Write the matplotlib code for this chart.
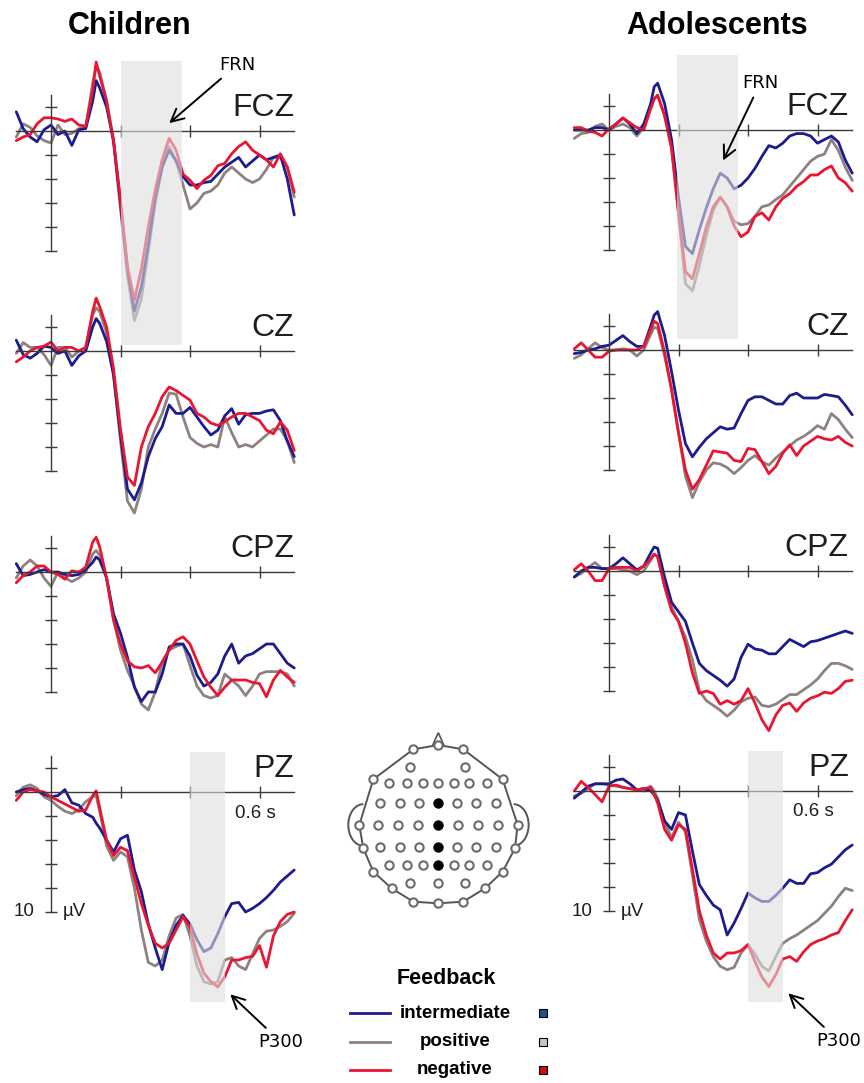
import matplotlib
matplotlib.use("Agg")
import matplotlib.pyplot as plt
from matplotlib.patches import Rectangle, Polygon, Arc
from matplotlib.lines import Line2D

plt.rcParams['font.family'] = ['Liberation Sans', 'DejaVu Sans']

W, H, DPI = 864, 1083, 100

# sample times in seconds
times = [-0.10, -0.08, -0.06, -0.04, -0.02, 0.00, 0.02, 0.04, 0.06, 0.08, 0.10, 0.12, 0.13,
         0.14, 0.16, 0.18, 0.20, 0.22, 0.24, 0.26, 0.28, 0.30, 0.32, 0.34, 0.36, 0.38, 0.40,
         0.42, 0.44, 0.46, 0.48, 0.50, 0.52, 0.54, 0.56, 0.58, 0.60, 0.62, 0.64, 0.66, 0.68, 0.70]

# ERP amplitudes in microvolts (positive plotted downwards)
# --- Children ---
ch_fcz_int = [-1.6, -0.2, 0.5, 0.9, -0.1, -0.5, 0.3, 0.0, 1.2, -0.1, -0.2, -2.5, -4.2,
              -3.6, -2.0, 0.8, 6.0, 11.5, 15.0, 13.0, 9.5, 5.5, 3.0, 1.6, 2.5, 3.8, 4.5,
              4.5, 4.3, 4.2, 3.6, 3.0, 2.6, 2.2, 3.0, 2.5, 2.0, 2.4, 2.2, 2.0, 4.0, 7.0]
ch_fcz_pos = [0.5, -0.6, -0.3, 0.4, 0.8, 1.0, -0.5, 0.3, 0.2, -0.2, -0.3, -4.0, -5.4,
              -4.9, -2.5, 1.0, 6.5, 12.0, 15.8, 14.0, 10.0, 6.0, 3.0, 1.3, 2.5, 4.5, 6.5,
              6.0, 5.2, 5.0, 4.5, 3.5, 3.0, 3.5, 4.0, 4.3, 4.0, 3.2, 2.2, 2.2, 3.0, 5.5]
ch_fcz_neg = [0.8, 0.5, 0.3, -0.6, -1.1, -1.1, -1.0, -0.8, -1.0, -0.5, -0.4, -3.4, -5.75,
              -4.6, -2.5, 0.8, 5.8, 11.3, 14.1, 11.5, 8.0, 4.9, 2.4, 0.6, 1.6, 3.6, 4.1,
              4.8, 4.1, 3.7, 2.9, 2.7, 1.9, 1.3, 0.9, 1.6, 2.0, 2.4, 3.0, 1.9, 3.0, 5.1]

ch_cz_int = [-0.9, 0.3, 0.6, 0.2, -0.4, -0.3, 0.2, 0.0, 1.2, 0.4, 0.0, -2.0, -2.7,
             -2.3, -0.8, 2.0, 7.0, 11.5, 12.4, 11.0, 8.8, 7.3, 6.3, 4.5, 5.2, 5.2, 4.7,
             5.5, 6.3, 7.0, 6.6, 5.4, 4.8, 6.1, 5.3, 5.2, 5.2, 5.0, 4.9, 5.8, 7.5, 8.8]
ch_cz_pos = [0.2, -0.7, -0.3, -0.3, 0.3, 1.2, -0.3, -0.3, 0.5, 0.0, -0.3, -3.0, -3.6,
             -3.3, -1.5, 2.0, 7.5, 12.5, 13.5, 11.5, 8.0, 6.5, 5.2, 3.5, 3.6, 5.5, 7.2,
             7.7, 8.0, 7.8, 8.0, 5.5, 6.8, 8.0, 7.8, 8.0, 7.5, 7.0, 6.5, 6.5, 7.5, 9.3]
ch_cz_neg = [0.9, 0.5, 0.0, -0.3, -0.4, -0.75, 0.0, -0.3, -0.3, 0.0, -0.3, -3.3, -4.4,
             -3.7, -2.0, 1.5, 6.5, 10.5, 11.2, 8.0, 6.3, 5.2, 3.8, 3.0, 3.3, 3.7, 4.1,
             5.2, 5.5, 6.0, 6.2, 5.9, 5.5, 5.2, 5.2, 5.5, 5.8, 6.6, 6.9, 5.9, 6.6, 8.3]

ch_cpz_int = [-0.7, 0.3, 0.2, 0.0, -0.2, 0.0, 0.0, 0.2, 0.3, 0.2, -0.2, -0.8, -1.25,
              -1.0, 0.5, 3.5, 5.1, 7.1, 9.6, 10.8, 10.0, 10.0, 8.5, 6.25, 6.0, 6.0, 7.0,
              8.6, 9.5, 9.2, 8.5, 7.0, 6.0, 7.6, 7.0, 6.8, 6.4, 6.0, 6.0, 6.8, 7.6, 8.0]
ch_cpz_pos = [0.5, -0.5, -1.0, -0.5, 0.5, 1.2, 0.0, 0.5, 0.8, 0.5, 0.0, -1.5, -1.8,
              -1.4, 0.5, 4.0, 6.5, 8.2, 9.5, 11.0, 11.5, 10.0, 7.5, 6.5, 6.2, 6.0, 7.8,
              9.5, 10.3, 10.5, 10.3, 8.5, 9.0, 9.5, 10.3, 9.5, 8.5, 8.3, 8.3, 8.3, 8.5, 9.5]
ch_cpz_neg = [0.9, 0.3, 0.0, -0.5, -0.5, 0.0, 0.2, 0.6, -0.1, 0.0, -0.4, -2.5, -2.9,
              -2.1, 0.5, 4.0, 6.0, 7.4, 7.9, 8.0, 7.8, 8.4, 7.5, 6.5, 5.7, 5.4, 6.0,
              7.4, 8.75, 9.6, 10.3, 9.6, 9.0, 9.0, 9.0, 9.2, 9.3, 10.4, 9.0, 8.2, 8.75, 9.2]

ch_pz_int = [0.0, -0.2, -0.3, -0.1, 0.2, 0.4, 0.3, -0.2, 0.9, 1.1, 1.8, 2.1, 2.6,
             3.0, 4.0, 5.0, 3.9, 3.6, 6.5, 8.3, 11.0, 13.0, 14.8, 12.5, 11.1, 10.3, 11.0,
             12.3, 13.3, 13.0, 11.8, 10.4, 9.3, 9.2, 10.0, 9.7, 9.3, 8.8, 8.2, 7.5, 7.0, 6.5]
ch_pz_pos = [0.3, -0.4, -0.6, -0.3, 0.4, 0.7, 1.2, 1.6, 1.8, 1.5, 0.8, 0.4, 0.3,
             1.6, 4.5, 5.7, 5.0, 5.4, 8.0, 11.5, 14.2, 14.5, 14.0, 12.0, 10.5, 10.2, 12.0,
             14.5, 15.8, 16.0, 15.8, 14.0, 13.8, 14.5, 14.8, 13.5, 12.2, 11.6, 11.5, 11.2, 10.8, 10.1]
ch_pz_neg = [0.7, 0.0, -0.2, -0.1, 0.0, 0.4, 0.7, 1.0, 1.3, 1.6, 1.5, 0.3, -0.1,
             1.3, 4.0, 5.3, 4.6, 4.9, 7.1, 9.3, 11.1, 12.6, 13.0, 12.6, 11.5, 10.4, 11.25,
             13.5, 15.1, 15.8, 16.25, 15.4, 14.0, 14.0, 13.8, 13.7, 12.8, 14.6, 12.0, 10.8, 10.2, 10.0]

# --- Adolescents ---
ad_fcz_int = [0.0, 0.0, 0.0, -0.2, -0.2, 0.0, -0.5, -1.0, -0.5, 0.3, -0.5, -2.2, -3.6,
              -3.9, -2.2, 0.8, 5.6, 9.7, 10.3, 8.3, 6.5, 4.9, 3.6, 4.0, 4.9, 4.6, 4.0,
              3.2, 2.2, 1.3, 1.5, 1.1, 0.5, 0.3, 0.3, 0.5, 1.1, 0.8, 0.5, 1.0, 2.5, 3.6]
ad_fcz_pos = [0.7, 0.3, 0.2, -0.3, -0.5, 0.0, -0.3, -0.5, -0.2, 0.5, -0.2, -1.8, -2.6,
              -2.9, -1.2, 1.5, 7.0, 12.8, 13.4, 11.3, 8.8, 6.7, 5.6, 6.4, 7.6, 7.9, 7.8,
              7.2, 6.4, 6.25, 5.8, 5.4, 4.7, 4.0, 3.3, 2.6, 2.2, 2.0, 0.8, 1.7, 3.1, 4.2]
ad_fcz_neg = [-0.2, -0.2, 0.1, 0.2, 0.5, -0.1, -0.5, -1.0, -0.6, -0.2, 0.0, -1.8, -2.6,
              -2.9, -1.2, 1.5, 6.8, 11.8, 12.4, 10.3, 8.1, 6.4, 5.6, 6.4, 8.0, 8.9, 8.5,
              7.2, 6.9, 7.5, 6.4, 5.7, 5.3, 4.7, 4.3, 3.75, 3.75, 3.3, 3.0, 4.0, 4.4, 5.1]

ad_cz_int = [0.3, 0.2, 0.0, -0.1, -0.3, -0.4, -0.8, -1.2, -0.7, -0.3, -0.3, -2.0, -2.9,
             -3.2, -1.2, 1.8, 5.0, 7.8, 8.9, 8.1, 7.4, 6.9, 6.4, 6.6, 6.5, 5.3, 4.2,
             3.9, 3.9, 4.2, 4.5, 4.5, 3.8, 3.6, 4.0, 4.0, 4.0, 3.7, 3.8, 3.9, 4.6, 5.4]
ad_cz_pos = [0.7, 0.4, -0.1, -0.6, -0.2, 0.0, 0.0, -0.1, 0.0, 0.5, 0.0, -1.3, -1.9,
             -1.8, 0.5, 3.3, 6.9, 10.5, 12.3, 11.0, 10.0, 9.4, 9.5, 9.8, 10.3, 9.8, 9.2,
             8.8, 9.3, 9.6, 9.0, 8.5, 8.0, 7.5, 7.2, 6.8, 6.3, 6.6, 5.3, 5.8, 6.6, 7.3]
ad_cz_neg = [-0.1, -0.6, 0.0, 0.6, 0.6, 0.1, 0.0, 0.0, 0.0, 0.0, -0.3, -1.7, -2.4,
             -2.2, 0.2, 3.3, 6.9, 10.0, 11.6, 10.8, 9.6, 8.4, 8.5, 8.6, 9.2, 9.3, 8.2,
             8.3, 9.3, 10.3, 9.7, 8.6, 7.9, 8.8, 8.0, 7.6, 7.2, 7.4, 7.5, 7.2, 7.7, 8.0]

ad_cpz_int = [0.5, 0.0, -0.3, -0.3, -0.2, -0.2, -0.6, -1.1, -0.6, -0.1, -0.4, -1.5, -2.0,
              -1.9, 0.5, 2.6, 3.4, 4.2, 6.0, 7.7, 8.3, 8.7, 9.1, 9.6, 9.0, 7.2, 6.1,
              6.5, 6.6, 6.9, 6.9, 6.3, 5.7, 6.0, 6.3, 5.9, 5.8, 5.6, 5.4, 5.2, 5.0, 5.2]
ad_cpz_pos = [0.5, 0.2, -0.3, -0.7, -0.2, -0.2, -0.2, -0.1, 0.0, 0.3, 0.0, -0.9, -1.4,
              -1.2, 1.2, 3.0, 4.2, 5.5, 7.4, 10.0, 10.8, 11.2, 11.6, 12.1, 11.6, 10.9, 10.6,
              10.5, 11.2, 11.3, 11.1, 10.7, 10.3, 10.3, 9.9, 9.5, 9.0, 8.3, 7.7, 7.7, 7.9, 8.2]
ad_cpz_neg = [-0.1, -0.6, 0.0, 0.8, 0.8, -0.2, -0.3, -0.3, -0.3, 0.0, -0.4, -1.0, -1.4,
              -1.2, 1.3, 3.3, 4.2, 6.0, 8.5, 10.2, 10.0, 10.2, 11.1, 10.8, 11.1, 10.8, 9.8,
              11.0, 12.4, 13.3, 12.0, 11.2, 11.0, 11.7, 11.0, 10.6, 10.4, 10.1, 10.2, 9.8, 9.2, 9.1]

ad_pz_int = [0.6, 0.1, -0.4, -0.6, -0.6, -0.6, -0.9, -1.0, -0.6, -0.1, -0.2, 0.0, 0.3,
             0.8, 2.5, 3.2, 1.8, 2.0, 5.0, 7.8, 8.7, 9.5, 9.9, 12.0, 11.0, 9.8, 8.5,
             8.9, 9.2, 9.2, 8.7, 8.1, 7.4, 7.7, 7.7, 6.9, 6.8, 6.4, 6.1, 5.5, 4.9, 4.5]
ad_pz_pos = [0.4, 0.2, -0.2, -0.6, -0.6, -0.5, -0.4, -0.3, -0.2, -0.1, 0.0, -0.4, 0.0,
             0.6, 2.6, 3.9, 2.6, 3.4, 7.0, 10.7, 12.5, 13.8, 14.6, 14.9, 14.7, 13.5, 12.8,
             13.6, 14.6, 15.0, 13.8, 12.7, 12.3, 12.0, 11.6, 11.2, 10.8, 10.2, 9.6, 8.8, 8.1, 8.3]
ad_pz_neg = [0.0, -0.8, -0.3, 0.3, 0.9, -0.4, -0.5, -0.3, -0.2, -0.1, -0.2, -0.3, 0.3,
             1.0, 3.2, 4.1, 2.8, 3.2, 6.5, 10.0, 12.0, 13.5, 14.0, 13.5, 13.5, 13.3, 12.8,
             14.2, 15.5, 16.3, 15.3, 14.0, 13.8, 14.2, 13.4, 12.8, 12.5, 12.3, 12.0, 11.8, 10.8, 9.9]

groups = ["Children", "Adolescents"]
channels = ["FCZ", "CZ", "CPZ", "PZ"]
conditions = ["intermediate", "positive", "negative"]

data = {
    ("Children", "FCZ"): [ch_fcz_int, ch_fcz_pos, ch_fcz_neg],
    ("Children", "CZ"): [ch_cz_int, ch_cz_pos, ch_cz_neg],
    ("Children", "CPZ"): [ch_cpz_int, ch_cpz_pos, ch_cpz_neg],
    ("Children", "PZ"): [ch_pz_int, ch_pz_pos, ch_pz_neg],
    ("Adolescents", "FCZ"): [ad_fcz_int, ad_fcz_pos, ad_fcz_neg],
    ("Adolescents", "CZ"): [ad_cz_int, ad_cz_pos, ad_cz_neg],
    ("Adolescents", "CPZ"): [ad_cpz_int, ad_cpz_pos, ad_cpz_neg],
    ("Adolescents", "PZ"): [ad_pz_int, ad_pz_pos, ad_pz_neg],
}

line_colors = {"intermediate": "#1c1c8e", "positive": "#8d8280", "negative": "#ea1530"}
box_colors = {"intermediate": "#1f4f8f", "positive": "#c4c4c4", "negative": "#cc1010"}
draw_order = [1, 0, 2]  # grey, blue, red on top

# time windows (s, uV) that are shaded
frn_window = {"Children": (0.20, 0.377, -5.8, 17.8), "Adolescents": (0.196, 0.371, -6.25, 17.4)}
p300_window = {"Children": (0.40, 0.50, -3.3, 17.5), "Adolescents": (0.40, 0.50, -3.3, 17.6)}

# panel geometry in pixels
PX_S, PX_UV = 347.5, 12.0
T0, T1, V0, V1 = -0.14, 0.74, -8.0, 18.0
x_origin = {"Children": 51, "Adolescents": 609}
y_origin = {"Children": [131, 351, 572, 792], "Adolescents": [130, 350, 571, 791]}

fig = plt.figure(figsize=(W / DPI, H / DPI), dpi=DPI)

axis_col = "#3a3a3a"
txt_col = "#1e1e1e"

for g in groups:
    for ci, ch in enumerate(channels):
        x0, z = x_origin[g], y_origin[g][ci]
        left = x0 + T0 * PX_S
        top = z + V0 * PX_UV
        w = (T1 - T0) * PX_S
        h = (V1 - V0) * PX_UV
        ax = fig.add_axes([left / W, 1 - (top + h) / H, w / W, h / H])
        ax.set_xlim(T0, T1)
        ax.set_ylim(V1, V0)
        ax.patch.set_visible(False)

        for s in ["top", "right"]:
            ax.spines[s].set_visible(False)
        ax.spines["left"].set_position(("data", 0))
        ax.spines["bottom"].set_position(("data", 0))
        ax.spines["left"].set_bounds(-3, 10)
        ax.spines["bottom"].set_bounds(-0.1, 0.7)
        for s in ["left", "bottom"]:
            ax.spines[s].set_color(axis_col)
            ax.spines[s].set_linewidth(1.0)
        ax.set_xticks([0.2, 0.4, 0.6])
        ax.set_yticks([-2, 2, 4, 6, 8, 10])
        ax.tick_params(direction="inout", length=8.4, width=1.0, color=axis_col,
                       labelleft=False, labelbottom=False)

        series = data[(g, ch)]
        for k in draw_order:
            ax.plot(times, series[k], color=line_colors[conditions[k]], lw=2.0,
                    solid_joinstyle="round", solid_capstyle="round", clip_on=False, zorder=2)

        ax.text(0.70 if g == "Children" else 0.69, -1.9, ch, ha="right", va="center",
                fontsize=23, color=txt_col)

        win = frn_window[g] if ch == "FCZ" else (p300_window[g] if ch == "PZ" else None)
        if win is not None:
            ax.add_patch(Rectangle((win[0], win[2]), win[1] - win[0], win[3] - win[2],
                                   facecolor="#dedede", edgecolor="none", alpha=0.6,
                                   zorder=3, clip_on=False))

        arrow = dict(arrowstyle="->,head_length=0.7,head_width=0.35", color="black", lw=1.4)
        if ch == "FCZ":
            if g == "Children":
                ax.annotate("FRN", xy=(0.334, -0.5), xytext=(0.535, -5.5), ha="center", va="center",
                            fontsize=13, family="DejaVu Sans", arrowprops=arrow, zorder=6,
                            annotation_clip=False)
            else:
                ax.annotate("FRN", xy=(0.325, 2.75), xytext=(0.435, -3.9), ha="center", va="center",
                            fontsize=13, family="DejaVu Sans", arrowprops=arrow, zorder=6,
                            annotation_clip=False)
        if ch == "PZ":
            ax.annotate("P300", xy=(0.51, 16.7), xytext=(0.66, 20.8), ha="center", va="center",
                        fontsize=13, family="DejaVu Sans", arrowprops=arrow, zorder=6,
                        annotation_clip=False)
            ax.text(0.587, 1.75, "0.6 s", ha="center", va="center", fontsize=13.5, color=txt_col)
            ax.text(-0.077, 10.0, "10", ha="center", va="center", fontsize=13.5, color=txt_col)
            ax.text(0.035, 10.0, "µV", ha="left", va="center", fontsize=13.5, color=txt_col)

# group titles
fig.text(130 / W, 1 - 26 / H, "Children", ha="center", va="center", fontsize=22,
         fontweight="bold")
fig.text(717 / W, 1 - 26 / H, "Adolescents", ha="center", va="center", fontsize=22,
         fontweight="bold")

# electrode montage (schematic head, drawn in its own local units)
hx = fig.add_axes([343.3 / W, 1 - 910 / H, 190 / W, 180 / H])
hx.set_xlim(40, 610)
hx.set_ylim(570, 30)
hx.axis("off")
outer = [(325, 75), (400, 88), (518, 178), (563, 315), (555, 385), (518, 455), (465, 505),
         (400, 545), (325, 550), (250, 545), (185, 505), (130, 455), (100, 385), (88, 315),
         (130, 178), (250, 88)]
hx.add_patch(Polygon(outer, closed=True, fill=False, edgecolor="#555555", lw=1.4))
hx.add_patch(Polygon([(308, 76), (325, 38), (342, 76)], closed=True, facecolor="white",
                     edgecolor="#555555", lw=1.2))
hx.add_patch(Arc((100, 315), 90, 125, theta1=90, theta2=270, edgecolor="#555555", lw=1.4))
hx.add_patch(Arc((551, 315), 90, 125, theta1=-90, theta2=90, edgecolor="#555555", lw=1.4))
inner_rows = [
    (140, [240, 405]),
    (190, [178, 230, 278, 325, 372, 418, 470]),
    (250, [150, 210, 268, 325, 380, 438, 498]),
    (315, [145, 205, 265, 325, 385, 445, 505]),
    (380, [150, 210, 268, 325, 380, 438, 498]),
    (435, [178, 230, 278, 325, 372, 418, 470]),
    (490, [240, 325, 405]),
]
active_rows = [250, 315, 380, 435]
ex = [p[0] for p in outer]
ey = [p[1] for p in outer]
for yy, xs in inner_rows:
    for xx in xs:
        ex.append(xx)
        ey.append(yy)
hx.plot(ex, ey, "o", ms=6, mfc="white", mec="#6a6a6a", mew=1.5, zorder=3)
hx.plot([325] * len(active_rows), active_rows, "o", ms=6.2, mfc="black", mec="black", zorder=4)

# legend
fig.text(446 / W, 1 - 978 / H, "Feedback", ha="center", va="center", fontsize=15.5,
         fontweight="bold")
leg_y = [1013, 1042, 1070]
for cond, yy in zip(conditions, leg_y):
    fig.add_artist(Line2D([350 / W, 390 / W], [1 - yy / H, 1 - yy / H],
                          color=line_colors[cond], lw=2.0))
    fig.text(455 / W, 1 - yy / H, cond, ha="center", va="center", fontsize=13.5,
             fontweight="bold")
    fig.add_artist(Rectangle((539 / W, 1 - (yy + 4) / H), 8 / W, 8 / H,
                             facecolor=box_colors[cond], edgecolor="black", lw=0.8))

fig.savefig("out.png", dpi=DPI)
